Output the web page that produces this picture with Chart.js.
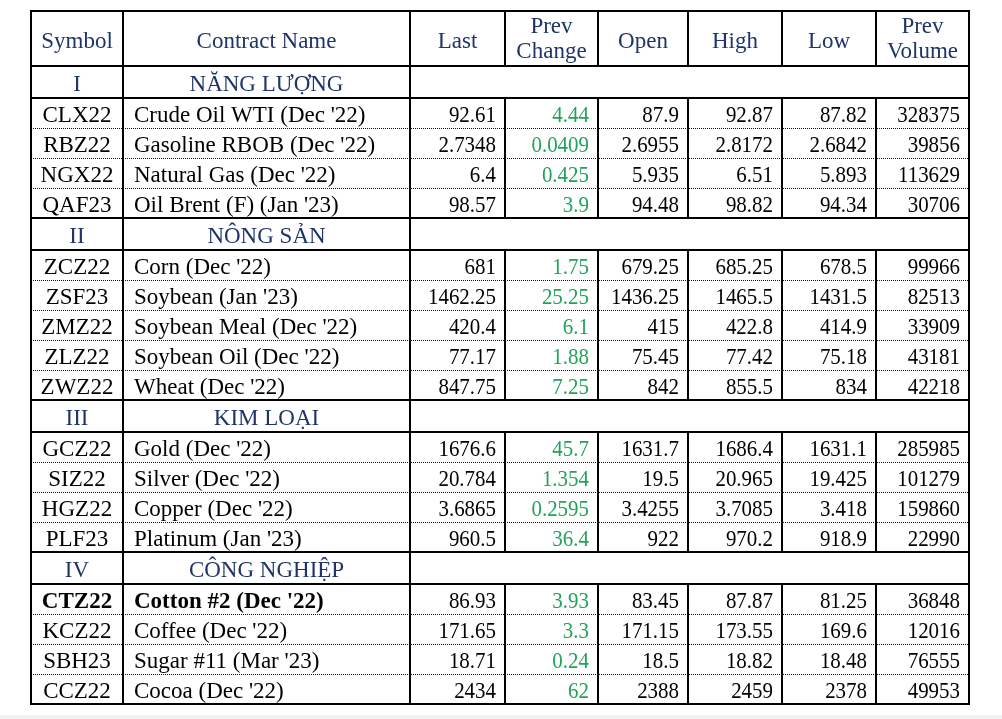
<!DOCTYPE html>
<html><head><meta charset="utf-8">
<script src="https://cdn.jsdelivr.net/npm/chart.js@4"></script>
<style>
html,body{margin:0;padding:0;background:#fff;}
#wrap{position:relative;width:1002px;height:719px;overflow:hidden;}
#band{position:absolute;left:0;top:715px;width:1002px;height:4px;background:#f1f1f1;}
</style>
</head><body>
<div id="wrap"><canvas id="c"></canvas><div id="band"></div></div>
<script>
// ---------- DATA ----------
const headers = [["Symbol"],["Contract Name"],["Last"],["Prev","Change"],["Open"],["High"],["Low"],["Prev","Volume"]];
const sectionNumerals = ["I","II","III","IV"];
const sectionNames = ["NĂNG LƯỢNG","NÔNG SẢN","KIM LOẠI","CÔNG NGHIỆP"];
const sectionOf = [0,0,0,0,1,1,1,1,1,2,2,2,2,3,3,3,3];
const symbols = ["CLX22","RBZ22","NGX22","QAF23","ZCZ22","ZSF23","ZMZ22","ZLZ22","ZWZ22","GCZ22","SIZ22","HGZ22","PLF23","CTZ22","KCZ22","SBH23","CCZ22"];
const contractNames = ["Crude Oil WTI (Dec '22)","Gasoline RBOB (Dec '22)","Natural Gas (Dec '22)","Oil Brent (F) (Jan '23)","Corn (Dec '22)","Soybean (Jan '23)","Soybean Meal (Dec '22)","Soybean Oil (Dec '22)","Wheat (Dec '22)","Gold (Dec '22)","Silver (Dec '22)","Copper (Dec '22)","Platinum (Jan '23)","Cotton #2 (Dec '22)","Coffee (Dec '22)","Sugar #11 (Mar '23)","Cocoa (Dec '22)"];
const lastPrice = [92.61,2.7348,6.4,98.57,681,1462.25,420.4,77.17,847.75,1676.6,20.784,3.6865,960.5,86.93,171.65,18.71,2434];
const prevChange = [4.44,0.0409,0.425,3.9,1.75,25.25,6.1,1.88,7.25,45.7,1.354,0.2595,36.4,3.93,3.3,0.24,62];
const openPrice = [87.9,2.6955,5.935,94.48,679.25,1436.25,415,75.45,842,1631.7,19.5,3.4255,922,83.45,171.15,18.5,2388];
const highPrice = [92.87,2.8172,6.51,98.82,685.25,1465.5,422.8,77.42,855.5,1686.4,20.965,3.7085,970.2,87.87,173.55,18.82,2459];
const lowPrice = [87.82,2.6842,5.893,94.34,678.5,1431.5,414.9,75.18,834,1631.1,19.425,3.418,918.9,81.25,169.6,18.48,2378];
const prevVolume = [328375,39856,113629,30706,99966,82513,33909,43181,42218,285985,101279,159860,22990,36848,12016,76555,49953];
const boldSymbols = ["CTZ22"];

// ---------- LAYOUT / STYLE ----------
const COL_W = [92,287,95,93,90,94,94,93];
const ROW_H = {header:55, section:32, data:30};
const NAVY = "#1f3468", GREEN = "#22a35a", BLACK = "#000";
const FONT_PX = 23;
const NUM_CONDENSE = 0.91;

const xEdges = [0]; COL_W.forEach(w => xEdges.push(xEdges[xEdges.length-1] + w));
const rows = [{type:"header"}];
sectionOf.forEach((s, i) => {
  if (i === 0 || sectionOf[i-1] !== s) rows.push({type:"section", s});
  rows.push({type:"data", i});
});
const yEdges = [0]; rows.forEach(r => yEdges.push(yEdges[yEdges.length-1] + ROW_H[r.type]));
const totalW = xEdges[xEdges.length-1], totalH = yEdges[yEdges.length-1];

const numericCols = [lastPrice, prevChange, openPrice, highPrice, lowPrice, prevVolume];
const cells = [];
rows.forEach((r, k) => {
  const cy = (yEdges[k] + yEdges[k+1]) / 2;
  if (r.type === "header") {
    headers.forEach((lines, c) => {
      const cx = (xEdges[c] + xEdges[c+1]) / 2;
      if (lines.length === 1) cells.push({x:cx, y:cy + 9.5, text:lines[0], align:"center", color:NAVY});
      else {
        cells.push({x:cx, y:cy - 6, text:lines[0], align:"center", color:NAVY});
        cells.push({x:cx, y:cy + 19, text:lines[1], align:"center", color:NAVY});
      }
    });
  } else if (r.type === "section") {
    cells.push({x:(xEdges[0]+xEdges[1])/2, y:cy + 8.5, text:sectionNumerals[r.s], align:"center", color:NAVY});
    cells.push({x:(xEdges[1]+xEdges[2])/2, y:cy + 8.5, text:sectionNames[r.s], align:"center", color:NAVY});
  } else {
    const i = r.i, bold = boldSymbols.includes(symbols[i]);
    cells.push({x:(xEdges[0]+xEdges[1])/2, y:cy + 8.5, text:symbols[i], align:"center", color:BLACK, bold});
    cells.push({x:xEdges[1] + 11, y:cy + 8.5, text:contractNames[i], align:"left", color:BLACK, bold});
    numericCols.forEach((arr, j) => {
      const c = j + 2;
      cells.push({x:xEdges[c+1] - 9, y:cy + 8.5, text:String(arr[i]), align:"right", color: j === 1 ? GREEN : BLACK, num:true});
    });
  }
});

const tablePlugin = {
  id: "tableGrid",
  beforeDatasetsDraw(chart) {
    const {ctx, scales:{x, y}} = chart;
    const px = v => Math.round(x.getPixelForValue(v));
    const py = v => Math.round(y.getPixelForValue(v));
    ctx.save();
    for (let k = 0; k <= rows.length; k++) {
      const solid = k === 0 || k === rows.length || rows[k-1].type !== "data" || rows[k].type !== "data";
      const yy = py(yEdges[k]);
      ctx.beginPath();
      if (solid) { ctx.setLineDash([]); ctx.lineWidth = 2; ctx.strokeStyle = "#000"; ctx.moveTo(px(0)-1, yy); ctx.lineTo(px(totalW)+1, yy); }
      else { ctx.setLineDash([1,1]); ctx.lineWidth = 1; ctx.strokeStyle = "#111"; ctx.moveTo(px(0), yy+0.5); ctx.lineTo(px(totalW), yy+0.5); }
      ctx.stroke();
    }
    ctx.setLineDash([]); ctx.lineWidth = 2; ctx.strokeStyle = "#000";
    rows.forEach((r, k) => {
      for (let j = 0; j < xEdges.length; j++) {
        if (r.type === "section" && j >= 3 && j < xEdges.length - 1) continue;
        const xx = px(xEdges[j]);
        ctx.beginPath(); ctx.moveTo(xx, py(yEdges[k])); ctx.lineTo(xx, py(yEdges[k+1])); ctx.stroke();
      }
    });
    ctx.restore();
  },
  afterDatasetsDraw(chart) {
    const {ctx} = chart;
    const meta = chart.getDatasetMeta(0);
    const ds = chart.data.datasets[0].data;
    ctx.save();
    ctx.textBaseline = "alphabetic";
    meta.data.forEach((el, i) => {
      const d = ds[i];
      ctx.font = (d.bold ? "bold " : "") + FONT_PX + 'px "Liberation Serif", "Times New Roman", serif';
      ctx.fillStyle = d.color;
      ctx.textAlign = d.align;
      if (d.num) {
        const w = ctx.measureText(d.text).width;
        ctx.fillText(d.text, el.x, el.y, w * NUM_CONDENSE);
      } else {
        ctx.fillText(d.text, el.x, el.y);
      }
    });
    ctx.restore();
  }
};

new Chart(document.getElementById("c"), {
  type: "scatter",
  data: { datasets: [{ data: cells, pointRadius: 0, pointHoverRadius: 0, showLine: false }] },
  options: {
    responsive: true, maintainAspectRatio: false, animation: false, events: [],
    layout: { padding: { left: 31, top: 11, right: 33, bottom: 15 } },
    plugins: { legend: { display: false }, tooltip: { enabled: false } },
    scales: {
      x: { type: "linear", min: 0, max: totalW, display: false },
      y: { type: "linear", min: 0, max: totalH, reverse: true, display: false }
    }
  },
  plugins: [tablePlugin]
});
</script>
</body></html>
